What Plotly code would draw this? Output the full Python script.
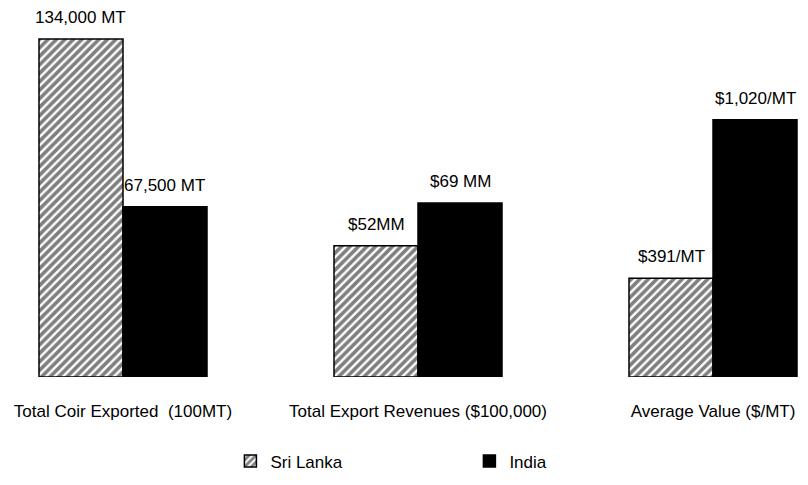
import plotly.graph_objects as go

categories = ["Total Coir Exported  (100MT)", "Total Export Revenues ($100,000)", "Average Value ($/MT)"]
sri_lanka = [1340, 520, 391]
india = [675, 690, 1020]
sri_lanka_labels = ["134,000 MT", "$52MM", "$391/MT"]
india_labels = ["67,500 MT", "$69 MM", "$1,020/MT"]

FONT = "Liberation Sans Narrow, Arial Narrow, Liberation Sans, Arial, sans-serif"
BAR_PX = 84  # bar width in pixels, used to center the value labels

fig = go.Figure()
fig.add_trace(go.Bar(
    name="Sri Lanka", x=categories, y=sri_lanka,
    marker=dict(color="white", line=dict(color="black", width=1.5),
                pattern=dict(shape="/", fgcolor="black", bgcolor="white", size=6, solidity=0.6)),
))
fig.add_trace(go.Bar(
    name="India", x=categories, y=india,
    marker=dict(color="black", line=dict(color="black", width=1.5)),
))

for cat, val, lab in zip(categories, sri_lanka, sri_lanka_labels):
    fig.add_annotation(x=cat, y=val, text=lab, showarrow=False, xshift=-BAR_PX / 2,
                       yanchor="bottom", yshift=10, font=dict(size=17, family=FONT, color="black"))
for cat, val, lab in zip(categories, india, india_labels):
    fig.add_annotation(x=cat, y=val, text=lab, showarrow=False, xshift=BAR_PX / 2,
                       yanchor="bottom", yshift=10, font=dict(size=17, family=FONT, color="black"))

fig.update_layout(
    width=800, height=477,
    margin=dict(l=0, r=0, t=12, b=108),
    paper_bgcolor="white", plot_bgcolor="white",
    barmode="group", bargap=0.4305, bargroupgap=0,
    font=dict(family=FONT, size=17, color="black"),
    showlegend=True,
    legend=dict(orientation="h", x=0.278, xanchor="left", y=-0.186, yanchor="top",
                entrywidth=194, font=dict(size=17, family=FONT)),
    xaxis=dict(range=[-0.3898, 2.322], showgrid=False, showline=False, zeroline=False,
               ticks="", ticklabelstandoff=22, tickfont=dict(size=17, family=FONT)),
    yaxis=dict(range=[0, 1415], visible=False, showgrid=False, zeroline=False),
)

fig.write_html("out.html")
